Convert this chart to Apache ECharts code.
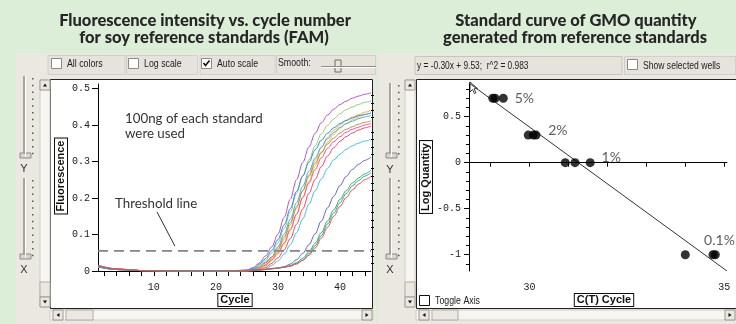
<!DOCTYPE html>
<html><head><meta charset="utf-8">
<script src="https://cdn.jsdelivr.net/npm/echarts@6/dist/echarts.min.js"></script>
<style>html,body{margin:0;padding:0;background:#dcedd8}#c{width:736px;height:324px}</style>
</head><body><div id="c"></div>
<script>
// ---------- DATA ----------
const cycles = [1,4,8,16,22,25,26,27,28,29,30,31,32,33,34,35,36,37,38,39,40,41,42,43,44,45];
const famPurple    = [0.014,0.005,0.001,0,0,0.003,0.009,0.022,0.041,0.066,0.101,0.147,0.197,0.250,0.297,0.340,0.377,0.406,0.427,0.443,0.456,0.465,0.473,0.479,0.484,0.488];
const famLightGreen= [0.012,0.004,0.001,0,0,0.001,0.005,0.014,0.029,0.049,0.077,0.116,0.162,0.213,0.261,0.304,0.343,0.376,0.399,0.416,0.431,0.442,0.449,0.456,0.462,0.466];
const famOrange    = [0.013,0.005,0.001,0,0,0,0.002,0.007,0.018,0.034,0.056,0.086,0.127,0.172,0.220,0.264,0.303,0.338,0.366,0.385,0.400,0.413,0.421,0.428,0.435,0.439];
const famYellow    = [0.011,0.004,0.001,0,0,0,0.001,0.005,0.013,0.028,0.047,0.073,0.111,0.154,0.202,0.246,0.287,0.323,0.353,0.374,0.391,0.404,0.414,0.421,0.428,0.433];
const famBlue      = [0.015,0.006,0.001,0,0,0.002,0.007,0.018,0.034,0.056,0.086,0.126,0.171,0.218,0.260,0.298,0.332,0.358,0.377,0.392,0.404,0.412,0.419,0.425,0.429,0.433];
const famSkyBlue   = [0.013,0.005,0.001,0,0,0.001,0.004,0.011,0.024,0.038,0.066,0.101,0.142,0.187,0.232,0.273,0.309,0.339,0.362,0.379,0.393,0.403,0.410,0.417,0.422,0.426];
const famBrown     = [0.012,0.004,0.001,0,0,0.001,0.003,0.010,0.022,0.038,0.061,0.093,0.133,0.176,0.220,0.259,0.295,0.325,0.348,0.364,0.378,0.388,0.395,0.402,0.407,0.411];
const famPink      = [0.016,0.006,0.001,0,0,0,0.002,0.006,0.016,0.031,0.050,0.077,0.115,0.156,0.201,0.241,0.278,0.310,0.336,0.354,0.368,0.380,0.388,0.394,0.400,0.404];
const famRose      = [0.014,0.005,0.001,0,0,0,0.001,0.003,0.009,0.021,0.036,0.058,0.089,0.128,0.170,0.213,0.251,0.286,0.315,0.338,0.355,0.368,0.378,0.386,0.392,0.397];
const famCyan      = [0.012,0.004,0.001,0,0,0,0,0.002,0.006,0.015,0.028,0.046,0.072,0.105,0.143,0.183,0.220,0.252,0.281,0.304,0.320,0.333,0.343,0.350,0.356,0.361];
const famIndigo    = [0.013,0.005,0.001,0,0,0.001,0.002,0.003,0.004,0.006,0.008,0.012,0.019,0.031,0.048,0.072,0.102,0.137,0.173,0.205,0.234,0.259,0.278,0.292,0.303,0.312];
const famGreen     = [0.012,0.004,0.001,0,0,0.001,0.002,0.003,0.005,0.007,0.009,0.011,0.015,0.023,0.035,0.052,0.076,0.105,0.137,0.168,0.196,0.220,0.241,0.255,0.266,0.276];
const famTeal      = [0.011,0.004,0.001,0,0,0.001,0.002,0.003,0.004,0.006,0.008,0.010,0.014,0.021,0.030,0.047,0.069,0.097,0.129,0.159,0.187,0.212,0.233,0.248,0.260,0.269];
const famRed       = [0.014,0.005,0.001,0,0,0.001,0.002,0.003,0.004,0.006,0.008,0.010,0.013,0.019,0.029,0.043,0.063,0.090,0.120,0.150,0.177,0.201,0.222,0.238,0.250,0.259];
const curveColors  = ['#b455c8','#9cc874','#f6ae3c','#e8c84a','#2f8ee0','#52a8dc','#b88c4c','#f0509c','#f04864','#46bfe0','#6464c4','#3cae6c','#2fa89a','#f05050'];

const thresholdLine = [[1,0.055],[45,0.055]];
const thresholdPointer = [[10.5,0.162],[13.4,0.068]];
const leftXTicks  = [2,4,6,8,10,12,14,16,18,20,22,24,26,28,30,32,34,36,38,40,42,44];
const leftXLabels = [10,20,30,40];
const leftYLabels = [0,0.1,0.2,0.3,0.4,0.5];
const leftYMinor  = [0.02,0.04,0.06,0.08,0.12,0.14,0.16,0.18,0.22,0.24,0.26,0.28,0.32,0.34,0.36,0.38,0.42,0.44,0.46,0.48];

const std5pct  = [[29.06,0.70],[29.12,0.70],[29.33,0.70]];
const std2pct  = [[29.97,0.30],[30.10,0.30],[30.17,0.30]];
const std1pct  = [[30.92,0],[31.17,0],[31.56,0]];
const std01pct = [[34.00,-1],[34.71,-1],[34.77,-1]];
const stdLabels = [[29.61,0.70,'5%'],[30.47,0.348,'2%'],[31.84,0.054,'1%'],[34.47,-0.84,'0.1%']];
const fitLine = [[28.45,0.866],[35.07,-1.177]];
const rightXTicks  = [29,30,31,32,33,34,35];
const rightXLabels = [30,35];
const rightYLabels = [-1,-0.5,0,0.5];
const rightYMinor  = [-1.1,-0.9,-0.8,-0.7,-0.6,-0.4,-0.3,-0.2,-0.1,0.1,0.2,0.3,0.4,0.6,0.7,0.8];

// ---------- CHROME ----------
const PANEL = '#ebe8e2';
const G = [];
function rect(x,y,w,h,fill,stroke,z){G.push({type:'rect',z:z||-10,silent:true,shape:{x,y,width:w,height:h},style:{fill:fill,stroke:stroke||null,lineWidth:1}});}
function txt(x,y,t,font,fill,align,sx){G.push({type:'text',z:-5,silent:true,x,y,scaleX:sx||1,style:{text:t,font:font,fill:fill||'#222',textAlign:align||'left',textVerticalAlign:'middle'}});}
function line(x1,y1,x2,y2,stroke,w){G.push({type:'line',z:-6,silent:true,shape:{x1,y1,x2,y2},style:{stroke:stroke,lineWidth:w||1}});}
function checkbox(x,y,checked,dark){rect(x+0.5,y+0.5,10,10,'#ffffff',dark?'#111':'#8c8a86',-7);
  if(checked){G.push({type:'polyline',z:-5,silent:true,shape:{points:[[x+2.5,y+5],[x+4.5,y+7.5],[x+8.5,y+2.5]]},style:{stroke:'#111',lineWidth:1.6,fill:null}});}}
function slider(x,y1,y2,label,ly){rect(x-1,y1,2,y2-y1,'#a8a49c',null,-9);line(x+1.5,y1,x+1.5,y2,'#ffffff',1);
  for(let y=y1+2;y<y2;y+=6.8){rect(x+8,y,1.5,1.5,'#555',null,-8);}
  rect(x-4,y2-4,11,5,'#d8d5ce','#8c8a86',-7);
  txt(x,ly,label,'11px "Liberation Sans"','#333','center');}
function vscroll(x,y1,y2){rect(x,y1,10,y2-y1,'#f6f5f2','#d0cdc6',-9);
  rect(x,y1,10,10,PANEL,'#9c9890',-8);G.push({type:'polygon',z:-5,silent:true,shape:{points:[[x+3,y1+6.5],[x+7,y1+6.5],[x+5,y1+3.5]]},style:{fill:'#111'}});
  rect(x,y2-25,10,15,PANEL,'#b0ada6',-8);
  rect(x,y2-10,10,10,PANEL,'#9c9890',-8);G.push({type:'polygon',z:-5,silent:true,shape:{points:[[x+3,y2-6.5],[x+7,y2-6.5],[x+5,y2-3.5]]},style:{fill:'#111'}});}
function hscroll(x1,x2,y,tx1,tx2){rect(x1,y,x2-x1,10,'#f6f5f2','#d0cdc6',-9);
  rect(x1+3,y,10,10,PANEL,'#9c9890',-8);G.push({type:'polygon',z:-5,silent:true,shape:{points:[[x1+9.5,y+3],[x1+9.5,y+7],[x1+6.5,y+5]]},style:{fill:'#111'}});
  rect(tx1,y,tx2-tx1,10,PANEL,'#b0ada6',-8);
  rect(x2-11,y,10,10,PANEL,'#9c9890',-8);G.push({type:'polygon',z:-5,silent:true,shape:{points:[[x2-7.5,y+3],[x2-7.5,y+7],[x2-4.5,y+5]]},style:{fill:'#111'}});}

// left window
rect(16,53,360,271,PANEL,null,-20);
rect(48,55.5,77,19,'#e6e3dc','#d2cfc8');rect(126.5,55.5,71,19,'#e6e3dc','#d2cfc8');rect(200,55.5,75,19,'#e6e3dc','#d2cfc8');rect(276.5,55.5,99,19,'#e6e3dc','#d2cfc8');
checkbox(51,58,false);txt(67,64,'All colors','11px "Liberation Sans"','#222','left',0.8);
checkbox(128,58,false);txt(144,64,'Log scale','11px "Liberation Sans"','#222','left',0.8);
checkbox(201,58,true);txt(217,64,'Auto scale','11px "Liberation Sans"','#222','left',0.8);
txt(278,63,'Smooth:','11px "Liberation Sans"','#222','left',0.8);
line(321,66.5,376,66.5,'#8c8a86',1);line(321,67.5,376,67.5,'#ffffff',1);rect(335,60,6,12,'#e6e3dc','#6c6a66',-7);
slider(24,76,157,'Y',169);slider(24,178,258,'X',270);
vscroll(40,80,307);
rect(50.5,79.5,322,229,'#ffffff','#222',-12);
hscroll(50,373,310,66,93);
// right window
rect(378,53,358,271,PANEL,null,-20);
rect(415,56.5,207,18,'#e6e3dc','#c8c5be');
txt(417,65.5,'y = -0.30x + 9.53;  r^2 = 0.983','11px "Liberation Sans"','#222','left',0.76);
rect(624.5,56.5,111,18,'#e6e3dc','#d2cfc8');checkbox(627,59,false);txt(643,65.5,'Show selected wells','11px "Liberation Sans"','#222','left',0.78);
slider(390,83,157,'Y',170);slider(390,178,258,'X',270);
vscroll(405,80,307);
rect(416.5,79.5,325,229,'#ffffff','#222',-12);
hscroll(416,736,310,432,458);
checkbox(419,295,false,true);txt(435,300.5,'Toggle Axis','11px "Liberation Sans"','#222','left',0.8);
// mouse cursor in the right plot
G.push({type:'polygon',z:-3,silent:true,shape:{points:[[470,82],[470,92],[472.5,89.5],[474.5,93.5],[476,92.8],[474,88.8],[477.5,88.5]]},style:{fill:'#fff',stroke:'#111',lineWidth:0.8}});
// titles
const TITLE_FONT = '900 16.5px Lato';
txt(205,21,'Fluorescence intensity vs. cycle number',TITLE_FONT,'#262626','center');
txt(204,38,'for soy reference standards (FAM)',TITLE_FONT,'#262626','center');
txt(576,21,'Standard curve of GMO quantity',TITLE_FONT,'#262626','center');
txt(575,38,'generated from reference standards',TITLE_FONT,'#262626','center');
// annotations
txt(125,118.5,'100ng of each standard','14px Lato','#333','left',0.95);
txt(125,133.5,'were used','14px Lato','#333','left',0.95);
txt(115,203,'Threshold line','14px Lato','#333','left',0.95);
// boxed axis names
function boxName(x,y,t,rot){G.push({type:'text',z:-4,silent:true,x,y,rotation:rot||0,style:{text:t,font:'bold 11px "Liberation Sans"',fill:'#111',textAlign:'center',textVerticalAlign:'middle',backgroundColor:'#fff',borderColor:'#111',borderWidth:1,padding:[1,2,0,2]}});}
boxName(61,176,'Fluorescence',Math.PI/2);
boxName(235,300,'Cycle');
boxName(426,177,'Log Quantity',Math.PI/2);
boxName(604,300,'C(T) Cycle');

// ---------- CHART ----------
const chart = echarts.init(document.getElementById('c'));
const MONO = {fontFamily:'"Liberation Mono"',fontSize:10,color:'#222'};
const axisBase = {splitLine:{show:false},axisLine:{lineStyle:{color:'#000',width:1}}};
const fam = [famPurple,famLightGreen,famOrange,famYellow,famBlue,famSkyBlue,famBrown,famPink,famRose,famCyan,famIndigo,famGreen,famTeal,famRed];
const series = fam.map((v,i)=>({type:'line',xAxisIndex:0,yAxisIndex:0,data:cycles.map((c,k)=>[c,v[k]]),smooth:0.35,smoothMonotone:'x',showSymbol:false,lineStyle:{width:1,color:curveColors[i]},z:3,silent:true}));
series.push({type:'line',xAxisIndex:0,yAxisIndex:0,data:thresholdLine,showSymbol:false,lineStyle:{width:1.6,color:'#858585',type:[10,6]},z:4,silent:true});
series.push({type:'line',xAxisIndex:0,yAxisIndex:0,data:thresholdPointer,showSymbol:false,lineStyle:{width:1,color:'#333'},z:4,silent:true});
series.push({type:'line',xAxisIndex:1,yAxisIndex:2,data:fitLine,showSymbol:false,lineStyle:{width:1,color:'#333'},z:3,silent:true});
[std5pct,std2pct,std1pct,std01pct].forEach(d=>series.push({type:'scatter',xAxisIndex:1,yAxisIndex:2,data:d,symbolSize:9,itemStyle:{color:'#000'},z:5,silent:true}));
series.push({type:'scatter',xAxisIndex:1,yAxisIndex:2,data:stdLabels,symbolSize:1,itemStyle:{color:'rgba(0,0,0,0)'},silent:true,
  label:{show:true,position:'right',distance:0,formatter:p=>p.data[2],fontFamily:'Lato',fontSize:14,color:'#333'}});

chart.setOption({
  animation:false,
  backgroundColor:'#dcedd8',
  graphic:{elements:G},
  grid:[{left:98,top:84,width:273,height:187},{left:469,top:83,width:258,height:188}],
  xAxis:[
    Object.assign({},axisBase,{type:'value',gridIndex:0,min:1,max:45,axisTick:{customValues:leftXTicks,length:5,lineStyle:{color:'#000'}},axisLabel:Object.assign({customValues:leftXLabels,margin:11},MONO)}),
    Object.assign({},axisBase,{type:'value',gridIndex:1,min:28.45,max:35.07,axisTick:{customValues:rightXTicks,length:4,lineStyle:{color:'#000'}},axisLabel:Object.assign({customValues:rightXLabels,margin:11},MONO)})
  ],
  yAxis:[
    Object.assign({},axisBase,{type:'value',gridIndex:0,min:0,max:0.512,axisTick:{customValues:leftYLabels,length:6,lineStyle:{color:'#000'}},axisLabel:Object.assign({customValues:leftYLabels,margin:8,formatter:v=>v===0?'0':v.toFixed(1)},MONO)}),
    {type:'value',gridIndex:0,min:0,max:0.512,splitLine:{show:false},axisLine:{show:false},axisLabel:{show:false},axisTick:{customValues:leftYMinor,length:3,lineStyle:{color:'#000'}}},
    Object.assign({},axisBase,{type:'value',gridIndex:1,min:-1.177,max:0.866,axisTick:{customValues:rightYLabels,length:5,lineStyle:{color:'#000'}},axisLabel:Object.assign({customValues:rightYLabels,margin:8,formatter:v=>String(v)},MONO)}),
    {type:'value',gridIndex:1,min:-1.177,max:0.866,position:'left',splitLine:{show:false},axisLine:{show:false},axisLabel:{show:false},axisTick:{customValues:rightYMinor,length:3,lineStyle:{color:'#000'}}}
  ],
  series:series
});
</script></body></html>
